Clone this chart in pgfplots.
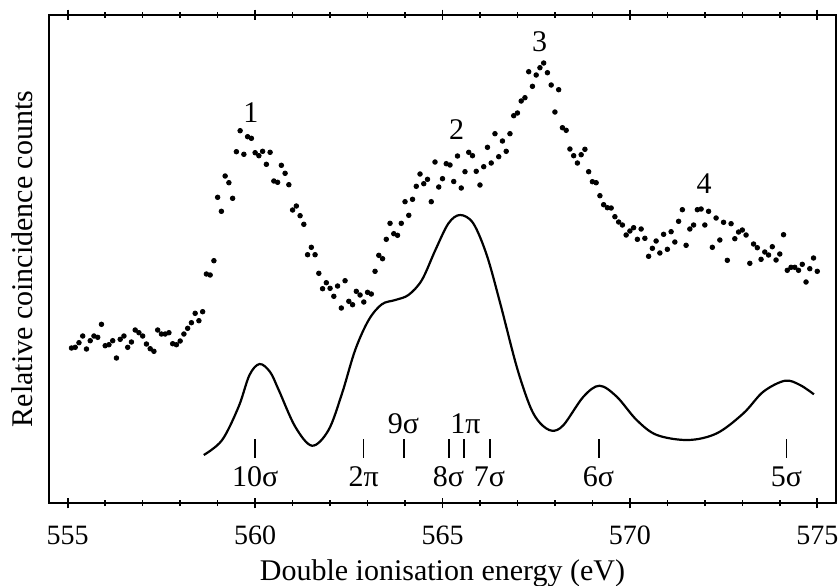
\documentclass[border=0pt]{standalone}
\usepackage{fontspec}
\setmainfont{Liberation Serif}
\usepackage{pgfplots}
\pgfplotsset{compat=1.18}

% y values are measured downward (y dir=reverse)
\pgfplotstableread{
x y
555.1 348
555.2 347.3
555.3 342.7
555.4 336
555.5 349
555.6 340.7
555.7 336
555.8 337.3
555.9 324.3
556.0 345.7
556.1 344.7
556.2 340.7
556.3 358
556.4 339.3
556.5 336
556.6 347.3
556.7 342
556.8 330
556.9 332.7
557.0 336
557.1 344
557.2 348.7
557.3 351.3
557.4 330
557.5 334
557.6 334
557.7 332.7
557.8 343.7
557.9 344.7
558.0 341
558.1 334
558.2 328.3
558.3 322.7
558.4 313.3
558.5 320.7
558.6 311.7
558.7 274
558.8 275
558.9 260.7
559.0 197.3
559.1 211.3
559.2 176
559.3 182.7
559.4 198.3
559.5 151.7
559.6 130.7
559.7 154.3
559.8 136.7
559.9 138.3
560.0 152.7
560.1 155.7
560.2 151.3
560.3 164.3
560.4 152.3
560.5 181
560.6 182.3
560.7 165.3
560.8 173.3
560.9 184.7
561.0 210
561.1 206
561.2 215.7
561.3 224.3
561.4 254.7
561.5 247.3
561.6 254.7
561.7 273.3
561.8 288.7
561.9 282.7
562.0 288.3
562.1 296.3
562.2 286
562.3 308
562.4 280.7
562.5 301.3
562.6 304.7
562.7 291.3
562.8 295
562.9 302
563.0 292.3
563.1 294
563.2 271.3
563.3 255.3
563.4 258.7
563.5 239.3
563.6 223.3
563.7 233.7
563.8 235.3
563.9 223.3
564.0 201.7
564.1 215.3
564.2 199.3
564.3 186.3
564.4 174
564.5 183.7
564.6 179.3
564.7 201.7
564.8 162
564.9 187
565.0 178.7
565.1 163.7
565.2 165
565.3 181.5
565.4 156
565.5 188
565.6 171.7
565.7 152.3
565.8 155.7
565.9 171.3
566.0 185
566.1 166.7
566.2 147.3
566.3 163
566.4 133.7
566.5 156.7
566.6 141
566.7 151.3
566.8 133.7
566.9 115.7
567.0 113
567.1 101
567.2 97.7
567.3 71.7
567.4 86.3
567.5 75
567.6 67.7
567.7 63
567.8 72.7
567.9 85
568.0 112
568.1 89.7
568.2 127.7
568.3 130.3
568.4 149
568.5 155.7
568.6 163
568.7 154.7
568.8 149.3
568.9 171.7
569.0 181.7
569.1 182.7
569.2 195.7
569.3 204.7
569.4 207.7
569.5 208
569.6 216.7
569.7 222
569.8 225
569.9 235
570.0 231
570.1 227.7
570.2 239.3
570.3 229
570.4 238.3
570.5 256.3
570.6 248.3
570.7 241
570.8 253
570.9 234.3
571.0 249.3
571.1 231.7
571.2 242
571.3 221.3
571.4 209.7
571.5 245.3
571.6 229
571.7 225
571.8 209.7
571.9 209
572.0 225
572.1 211.3
572.2 247.3
572.3 218
572.4 240
572.5 222.3
572.6 260.3
572.7 223.7
572.8 238.7
572.9 232
573.0 230
573.1 235
573.2 263.3
573.3 244
573.4 247.7
573.5 259.3
573.6 252
573.7 255
573.8 246.7
573.9 260
574.0 254
574.1 234.7
574.2 270.3
574.3 267.3
574.4 267.3
574.5 270.3
574.6 264.3
574.7 282
574.8 268.7
574.9 258
575.0 271.3
}\dotdata

\pgfplotstableread{
x y
558.63 455
559.12 440
559.56 406.7
559.85 375
560.12 364
560.40 372
560.63 390
561.07 426.7
561.52 445.7
561.96 430
562.32 393.3
562.67 350
563.03 320
563.38 304.3
563.74 300
564.09 295
564.45 280
564.81 250
565.16 223.3
565.47 215
565.82 223.3
566.18 255
566.54 303.3
566.98 366.7
567.34 406.7
567.61 423.3
567.92 430.7
568.23 425
568.76 396.7
569.19 385.7
569.65 396.7
570.18 420
570.72 435
571.56 440
572.32 433.3
573.03 413.3
573.56 391.7
574.14 380.7
574.54 385
574.91 394.3
}\curvedata

\begin{document}
\begin{tikzpicture}
\begin{axis}[
  at={(0,0)}, anchor=south west,
  scale only axis, width=393.5pt, height=244pt,
  xmin=554.5, xmax=575.5, ymin=15, ymax=503, y dir=reverse,
  xtick={555,560,565,570,575},
  minor x tick num=4,
  ytick=\empty,
  tick align=center,
  major tick length=5.4pt, minor tick length=3pt,
  axis line style={line width=0.9pt},
  every tick/.style={black, line width=0.8pt},
  /pgf/number format/assume math mode=true,
  /pgf/number format/1000 sep={},
  xticklabel style={font=\fontsize{14}{16}\selectfont, anchor=base, yshift=-18pt},
  xlabel={Double ionisation energy (eV)},
  xlabel style={font=\fontsize{15}{18}\selectfont, at={(rel axis cs:0.5,0)}, anchor=base, yshift=-38.5pt},
  ylabel={Relative coincidence counts},
  ylabel style={font=\fontsize{15}{18}\selectfont, at={(rel axis cs:0,0.5)}, anchor=center, yshift=13.5pt},
]
\addplot[only marks, mark=*, mark size=1.15pt, black] table {\dotdata};
\addplot[black, line width=1.1pt, smooth, tension=0.55] table {\curvedata};

\draw[line width=0.8pt] (axis cs:560.0,439.3) -- (axis cs:560.0,458.3);
\draw[line width=0.8pt] (axis cs:562.89,439.3) -- (axis cs:562.89,458.3);
\draw[line width=0.8pt] (axis cs:563.98,439.3) -- (axis cs:563.98,458.3);
\draw[line width=0.8pt] (axis cs:565.18,439.3) -- (axis cs:565.18,458.3);
\draw[line width=0.8pt] (axis cs:565.57,439.3) -- (axis cs:565.57,458.3);
\draw[line width=0.8pt] (axis cs:566.26,439.3) -- (axis cs:566.26,458.3);
\draw[line width=0.8pt] (axis cs:569.18,439.3) -- (axis cs:569.18,458.3);
\draw[line width=0.8pt] (axis cs:574.18,439.3) -- (axis cs:574.18,458.3);

\begin{scope}[every node/.style={font=\fontsize{15}{18}\selectfont, anchor=base, inner sep=0pt}]
\node at (axis cs:560.0,486) {10σ};
\node at (axis cs:562.90,486) {2π};
\node at (axis cs:563.96,433.3) {9σ};
\node at (axis cs:565.61,433.3) {1π};
\node at (axis cs:565.16,486) {8σ};
\node at (axis cs:566.25,486) {7σ};
\node at (axis cs:569.16,486) {6σ};
\node at (axis cs:574.18,486) {5σ};
\node at (axis cs:559.89,122.7) {1};
\node at (axis cs:565.38,139.3) {2};
\node at (axis cs:567.59,51.7) {3};
\node at (axis cs:571.98,193.3) {4};
\end{scope}
\end{axis}
\pgfresetboundingbox
\path (-24.5pt,-41pt) rectangle (395.5pt,251.5pt);
\end{tikzpicture}
\end{document}
